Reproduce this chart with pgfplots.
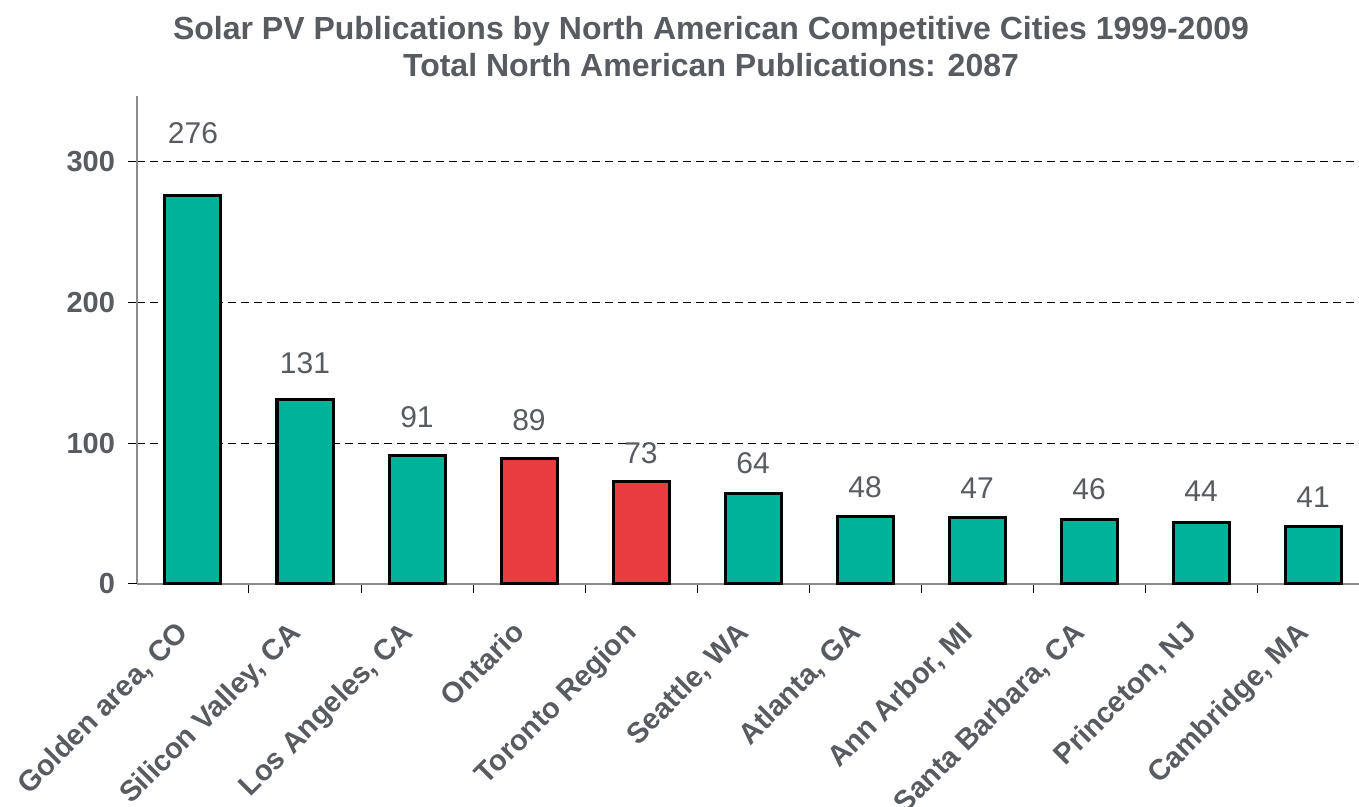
\documentclass[border=0pt]{standalone}
\usepackage{pgfplots}
\pgfplotsset{compat=1.18}
\usepackage{fontspec}
\setmainfont{Liberation Sans}
\definecolor{txtgrey}{RGB}{88,91,95}
\definecolor{axgrey}{RGB}{140,140,140}
\definecolor{teal}{RGB}{0,179,152}
\definecolor{redbar}{RGB}{232,60,63}
\begin{document}
\begin{tikzpicture}
\path[use as bounding box] (-68.5pt,-111.5pt) rectangle (611pt,292pt);
\begin{axis}[
  at={(0,0)}, anchor=south west,
  scale only axis,
  width=616pt, height=244.1pt,
  xmin=-0.5, xmax=10.5,
  ymin=0, ymax=347,
  axis x line*=bottom, axis y line*=left,
  axis line style={axgrey, line width=1pt},
  xtick={0,...,10},
  xticklabels={{Golden area, CO}, {Silicon Valley, CA}, {Los Angeles, CA}, Ontario, Toronto Region, {Seattle, WA}, {Atlanta, GA}, {Ann Arbor, MI}, {Santa Barbara, CA}, {Princeton, NJ}, {Cambridge, MA}},
  major x tick style={draw=none},
  minor x tick num=1,
  minor tick length=4.5pt,
  major tick length=4.5pt,
  tick align=outside,
  tick style={black, line width=0.5pt},
  ytick={100,200,300},
  extra y ticks={0},
  extra y tick style={grid=none},
  ymajorgrids,
  grid style={black, dashed, dash pattern=on 4pt off 2.5pt, line width=0.5pt},
  xticklabel style={font=\fontsize{14.5}{17}\selectfont\bfseries, text=txtgrey, inner sep=0pt, anchor=north east, xshift=-9pt, yshift=-13pt, rotate=45},
  yticklabel style={font=\fontsize{14.5}{17}\selectfont\bfseries, text=txtgrey, xshift=-3pt},
  /pgf/number format/assume math mode=true,
  clip=false,
]
\addplot[ybar, bar width=0.5, bar shift=0pt, fill=teal, draw=black, line width=1.5pt]
  coordinates {(0,276) (1,131) (2,91) (5,64) (6,48) (7,47) (8,46) (9,44) (10,41)};
\addplot[ybar, bar width=0.5, bar shift=0pt, fill=redbar, draw=black, line width=1.5pt]
  coordinates {(3,89) (4,73)};
\addplot[draw=none, mark=none, nodes near coords, point meta=explicit symbolic,
  every node near coord/.style={anchor=base, inner sep=0pt, text=txtgrey, font=\fontsize{15}{18}\selectfont}]
  coordinates {(0,312.8)[276] (1,149.6)[131] (2,111.1)[91] (3,109.2)[89] (4,86.0)[73] (5,78.5)[64] (6,61.7)[48] (7,60.5)[47] (8,60.3)[46] (9,58.4)[44] (10,54.6)[41]};
\end{axis}
\node[anchor=base, text=txtgrey, font=\fontsize{16}{19}\selectfont\bfseries] at (287pt,272pt) {Solar PV Publications by North American Competitive Cities 1999-2009};
\node[anchor=base, text=txtgrey, font=\fontsize{16}{19}\selectfont\bfseries] at (287pt,253.5pt) {Total North American Publications: 2087};
\end{tikzpicture}
\end{document}
